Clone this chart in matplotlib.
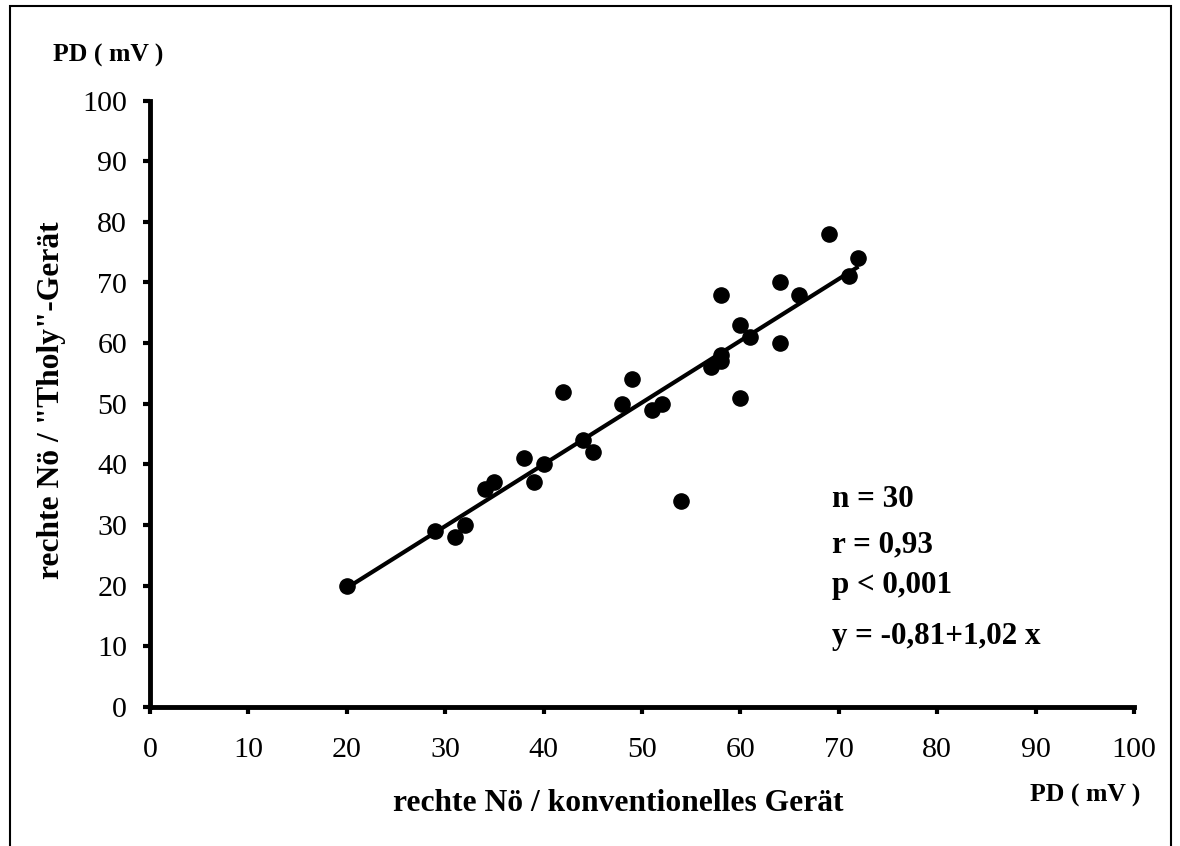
import numpy as np
import matplotlib.pyplot as plt
from matplotlib.patches import Rectangle

plt.rcParams['font.family'] = ['Liberation Serif', 'DejaVu Serif']

# PD readings (mV), right nostril: conventional device vs. "Tholy" device
konventionell = [20, 29, 31, 32, 34, 35, 38, 39, 40, 42, 44, 45, 48, 49, 51,
                 52, 54, 57, 58, 58, 58, 60, 60, 61, 64, 64, 66, 69, 71, 72]
tholy = [20, 29, 28, 30, 36, 37, 41, 37, 40, 52, 44, 42, 50, 54, 49,
         50, 34, 56, 57, 58, 68, 63, 51, 61, 70, 60, 68, 78, 71, 74]

# regression y = a + b x
a, b = -0.81, 1.02
stats_lines = ['n = 30', 'r = 0,93', 'p < 0,001', 'y = -0,81+1,02 x']
stats_y = [33.0, 25.5, 18.8, 10.3]

ticks = list(range(0, 101, 10))

fig = plt.figure(figsize=(11.8, 8.46), dpi=100)
ax = fig.add_axes([150 / 1180, 1 - 706.7 / 846, 984 / 1180, 606 / 846])

ax.scatter(konventionell, tholy, s=120, color='black', zorder=3, clip_on=False)
xs = np.array([min(konventionell), max(konventionell)])
ax.plot(xs, a + b * xs, color='black', lw=3, solid_capstyle='butt', zorder=2)

ax.set_xlim(0, 100)
ax.set_ylim(0, 100)
ax.set_xticks(ticks)
ax.set_yticks(ticks)
for s in ['top', 'right']:
    ax.spines[s].set_visible(False)
for s in ['left', 'bottom']:
    ax.spines[s].set_linewidth(3.5)
ax.tick_params(axis='both', direction='out', length=5, width=3, labelsize=21.6)
ax.tick_params(axis='x', pad=17)
ax.tick_params(axis='y', pad=11.5)

for txt, yy in zip(stats_lines, stats_y):
    ax.text(69.3, yy, txt, fontsize=22.4, fontweight='bold', ha='left', va='baseline')

# axis titles and units
fig.text(618 / 1180, 1 - 803 / 846, 'rechte Nö / konventionelles Gerät',
         fontsize=22.7, fontweight='bold', ha='center', va='center')
fig.text(52 / 1180, 1 - 400 / 846, 'rechte Nö / "Tholy"-Gerät',
         fontsize=22.7, fontweight='bold', ha='center', va='center', rotation=90)
fig.text(53 / 1180, 1 - 55 / 846, 'PD ( mV )', fontsize=18.5, fontweight='bold',
         ha='left', va='center')
fig.text(1030 / 1180, 1 - 795 / 846, 'PD ( mV )', fontsize=18.5, fontweight='bold',
         ha='left', va='center')

# outer frame, open at the bottom edge of the image
top = 1 - 6 / 846
fig.add_artist(Rectangle((10 / 1180, -0.01), 1161 / 1180, top + 0.01,
                         transform=fig.transFigure, fill=False, lw=1.5,
                         edgecolor='black'))

fig.savefig('out.png', dpi=100)
